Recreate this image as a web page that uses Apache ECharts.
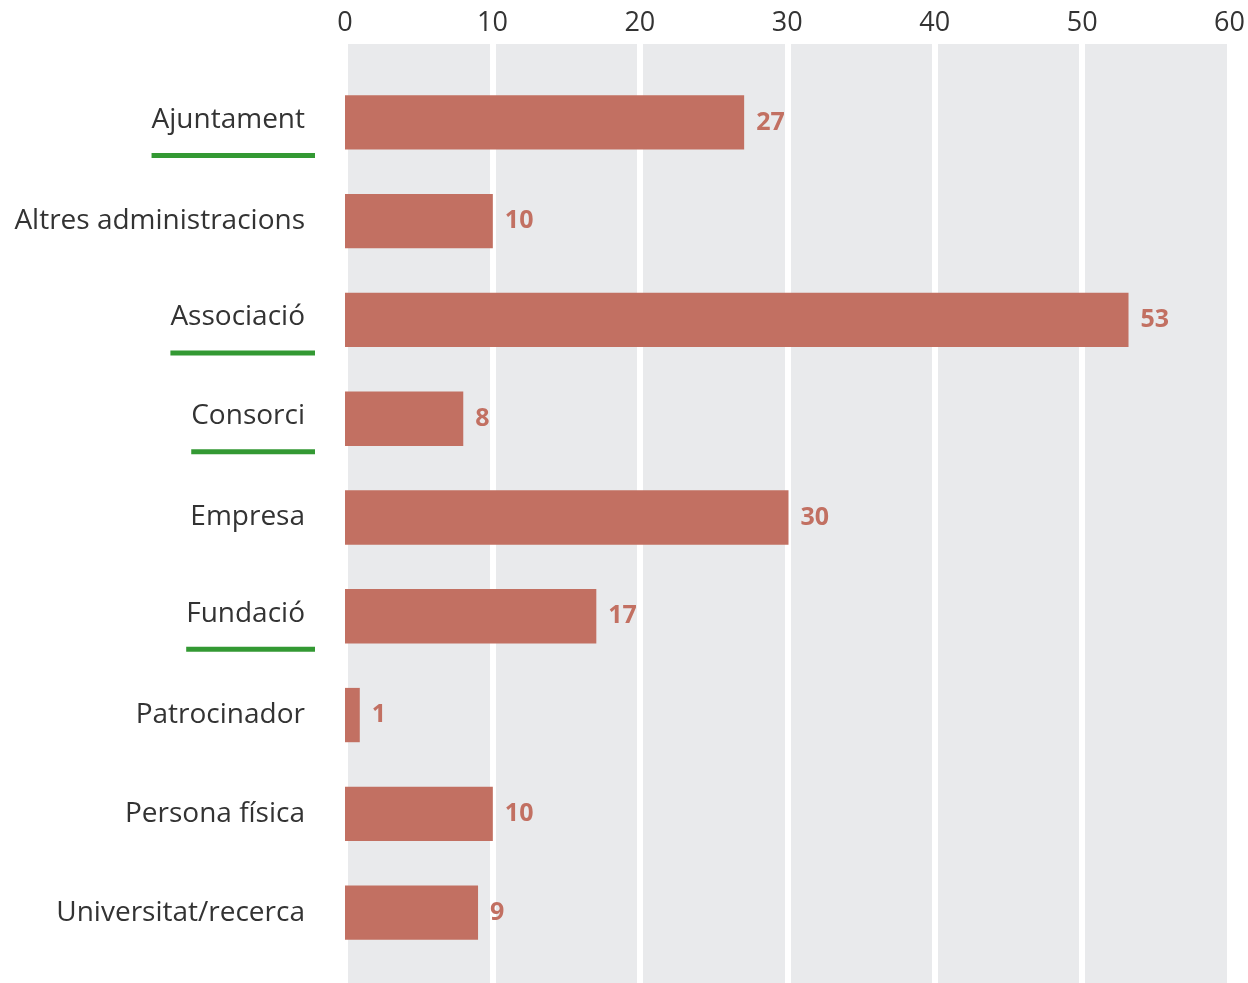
<!DOCTYPE html>
<html><head><meta charset="utf-8">
<script src="https://cdn.jsdelivr.net/npm/echarts@6/dist/echarts.min.js"></script>
<style>html,body{margin:0;padding:0;background:#fff}#c{width:1248px;height:983px}</style>
</head><body><div id="c"></div>
<script>
const categories = ['Ajuntament','Altres administracions','Associació','Consorci','Empresa','Fundació','Patrocinador','Persona física','Universitat/recerca'];
const values = [27,10,53,8,30,17,1,10,9];
const underlined = ['Ajuntament','Associació','Consorci','Fundació'];
const xTicks = [0,10,20,30,40,50,60];

const barColor = '#c27062';
const chart = echarts.init(document.getElementById('c'), null, {renderer:'canvas'});
chart.setOption({
  animation:false,
  textStyle:{fontFamily:'Open Sans'},
  grid:[
    {left:345,right:16,top:44,bottom:0,show:true,backgroundColor:'#e9eaec',borderWidth:0},
    {left:345,right:16,top:73,bottom:21,show:false}
  ],
  xAxis:[
    {gridIndex:0,type:'value',position:'top',min:xTicks[0],max:xTicks[xTicks.length-1],interval:10,
     axisLine:{show:false},axisTick:{show:false},
     axisLabel:{fontSize:27,color:'#333',margin:7,fontFamily:'Open Sans'},
     splitLine:{show:true,lineStyle:{color:'#ffffff',width:6}}},
    {gridIndex:1,type:'value',min:xTicks[0],max:xTicks[xTicks.length-1],interval:10,show:false}
  ],
  yAxis:[
    {gridIndex:0,type:'value',show:false},
    {gridIndex:1,type:'category',data:categories,inverse:true,
     axisLine:{show:false},axisTick:{show:false},
     axisLabel:{margin:30,color:'#333',fontSize:28,fontFamily:'Open Sans',
       formatter:function(v){return underlined.indexOf(v)>=0 ? '{n|'+v+'}\n{u|}' : '{p|'+v+'}';},
       rich:{
         p:{fontSize:28,color:'#333',fontFamily:'Open Sans',padding:[0,10,0,0]},
         n:{fontSize:28,color:'#333',fontFamily:'Open Sans',lineHeight:66,padding:[0,10,0,0]},
         u:{width:'100%',height:5,lineHeight:5,backgroundColor:'#339933'}
       }}}
  ],
  series:[{
    type:'bar',xAxisIndex:1,yAxisIndex:1,data:values,barCategoryGap:'45%',
    itemStyle:{color:barColor},
    label:{show:true,position:'right',distance:12,color:barColor,fontWeight:'bold',fontSize:25,fontFamily:'Open Sans'}
  }]
});
</script></body></html>
